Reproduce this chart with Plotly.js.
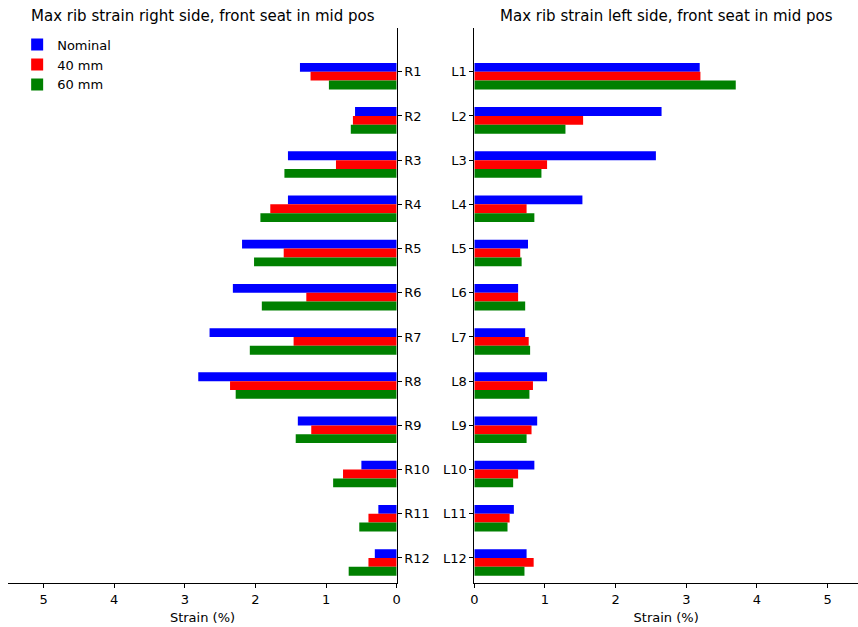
<!DOCTYPE html>
<html>
<head>
<meta charset="utf-8">
<script src="https://cdn.plot.ly/plotly-3.0.1.min.js"></script>
<style>html,body{margin:0;padding:0;background:#fff;}#chart{width:858px;height:627px;}</style>
</head>
<body>
<div id="chart"></div>
<script>
const rightLabels = ["R1","R2","R3","R4","R5","R6","R7","R8","R9","R10","R11","R12"];
const leftLabels  = ["L1","L2","L3","L4","L5","L6","L7","L8","L9","L10","L11","L12"];
const seriesNames = ["Nominal", "40 mm", "60 mm"];

const rightNominal = [1.37, 0.59, 1.54, 1.54, 2.19, 2.32, 2.65, 2.81, 1.40, 0.50, 0.26, 0.31];
const right40      = [1.22, 0.62, 0.86, 1.79, 1.60, 1.28, 1.46, 2.36, 1.21, 0.76, 0.40, 0.40];
const right60      = [0.96, 0.65, 1.59, 1.93, 2.02, 1.91, 2.08, 2.28, 1.43, 0.90, 0.53, 0.68];

const leftNominal  = [3.19, 2.65, 2.57, 1.53, 0.76, 0.62, 0.72, 1.03, 0.89, 0.85, 0.56, 0.74];
const left40       = [3.20, 1.54, 1.03, 0.74, 0.65, 0.62, 0.77, 0.83, 0.81, 0.62, 0.50, 0.84];
const left60       = [3.70, 1.29, 0.95, 0.85, 0.67, 0.72, 0.79, 0.78, 0.74, 0.55, 0.47, 0.71];

const colors = ["#0000ff", "#ff0000", "#008000"];
const offsets = [-0.2, 0, 0.2];
const font = "DejaVu Sans, sans-serif";

const rightSeries = [rightNominal, right40, right60];
const leftSeries = [leftNominal, left40, left60];

const traces = [];
rightSeries.forEach((vals, k) => {
  traces.push({
    type: "bar", orientation: "h", x: vals, y: rightLabels,
    xaxis: "x", yaxis: "y", name: seriesNames[k],
    marker: {color: colors[k], line: {width: 0}},
    width: 0.2, offset: offsets[k], showlegend: true, legendgroup: seriesNames[k]
  });
});
leftSeries.forEach((vals, k) => {
  traces.push({
    type: "bar", orientation: "h", x: vals, y: leftLabels,
    xaxis: "x2", yaxis: "y2", name: seriesNames[k],
    marker: {color: colors[k], line: {width: 0}},
    width: 0.2, offset: offsets[k], showlegend: false, legendgroup: seriesNames[k]
  });
});

const tickFont = {family: font, size: 13, color: "#000"};
const layout = {
  width: 858, height: 627,
  margin: {l: 0, r: 0, t: 28.3, b: 43.7, pad: 0},
  paper_bgcolor: "#fff", plot_bgcolor: "rgba(0,0,0,0)",
  barmode: "overlay",
  showlegend: true,
  legend: {x: 0.02, y: 0.997, xanchor: "left", yanchor: "top",
           font: {family: font, size: 13, color: "#000"}, bgcolor: "rgba(255,255,255,0)",
           tracegroupgap: 0, itemwidth: 30},
  font: {family: font, color: "#000"},
  xaxis: {
    domain: [8.3/858, 396.7/858], range: [5.5, 0], anchor: "y",
    showline: true, linecolor: "#000", linewidth: 1, mirror: false,
    ticks: "outside", ticklen: 4, tickcolor: "#000", tickwidth: 1,
    tickvals: [0,1,2,3,4,5], showgrid: false, zeroline: false,
    tickfont: tickFont,
    title: {text: "Strain (%)", font: {family: font, size: 13, color: "#000"}, standoff: 7}
  },
  yaxis: {
    anchor: "x", side: "right", type: "category",
    categoryorder: "array", categoryarray: rightLabels,
    range: [11.566, -0.99],
    showline: true, linecolor: "#000", linewidth: 1,
    ticks: "outside", ticklen: 4, tickcolor: "#000", tickwidth: 1,
    showgrid: false, zeroline: false, tickfont: tickFont
  },
  xaxis2: {
    domain: [474.3/858, 1], range: [0, 5.43], anchor: "y2",
    showline: true, linecolor: "#000", linewidth: 1,
    ticks: "outside", ticklen: 4, tickcolor: "#000", tickwidth: 1,
    tickvals: [0,1,2,3,4,5], showgrid: false, zeroline: false,
    tickfont: tickFont,
    title: {text: "Strain (%)", font: {family: font, size: 13, color: "#000"}, standoff: 7}
  },
  yaxis2: {
    anchor: "x2", side: "left", type: "category",
    categoryorder: "array", categoryarray: leftLabels,
    range: [11.566, -0.99],
    showline: true, linecolor: "#000", linewidth: 1,
    ticks: "outside", ticklen: 4, tickcolor: "#000", tickwidth: 1,
    showgrid: false, zeroline: false, tickfont: tickFont
  },
  annotations: [
    {text: "Max rib strain right side, front seat in mid pos", xref: "paper", yref: "paper",
     x: (8.3 + 396.7) / 2 / 858, y: 1, yshift: 12.3, xanchor: "center", yanchor: "middle",
     showarrow: false, font: {family: font, size: 15, color: "#000"}},
    {text: "Max rib strain left side, front seat in mid pos", xref: "paper", yref: "paper",
     x: (474.3 + 858) / 2 / 858, y: 1, yshift: 12.3, xanchor: "center", yanchor: "middle",
     showarrow: false, font: {family: font, size: 15, color: "#000"}}
  ]
};

Plotly.newPlot("chart", traces, layout, {displayModeBar: false, staticPlot: true});
</script>
</body>
</html>
